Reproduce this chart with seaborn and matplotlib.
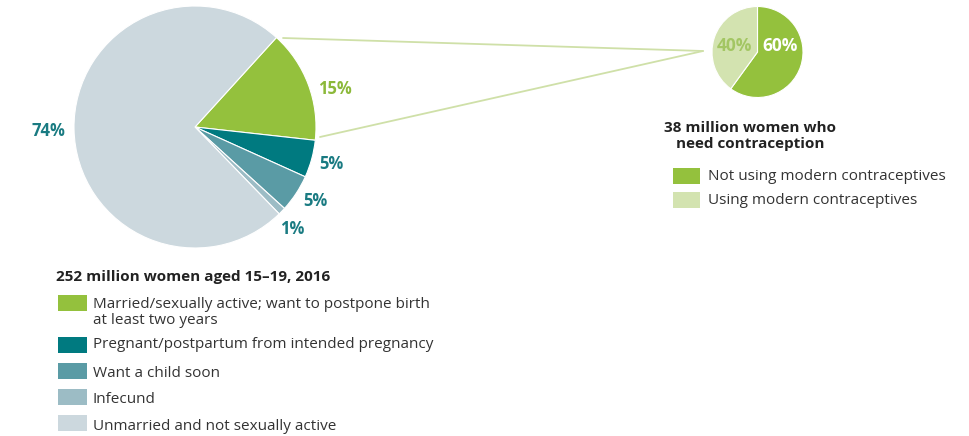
import matplotlib
matplotlib.use("Agg")
import matplotlib.pyplot as plt
import seaborn as sns
from matplotlib.patches import Rectangle

# data
teen_labels = [
    "Married/sexually active; want to postpone birth\nat least two years",
    "Pregnant/postpartum from intended pregnancy",
    "Want a child soon",
    "Infecund",
    "Unmarried and not sexually active",
]
teen_values = [15, 5, 5, 1, 74]
teen_colors = ["#94c13d", "#007a80", "#5a9ba5", "#9cbcc5", "#ccd8de"]
teen_title = "252 million women aged 15\u201319, 2016"

need_labels = ["Not using modern contraceptives", "Using modern contraceptives"]
need_values = [60, 40]
need_colors = ["#94c13d", "#d3e3b0"]
need_title = "38 million women who\nneed contraception"

sns.set_theme(style="white")
plt.rcParams["font.family"] = ["Open Sans", "DejaVu Sans"]

W, H = 969, 436
fig = plt.figure(figsize=(W / 100, H / 100), dpi=100)
ax = fig.add_axes([0, 0, 1, 1])


def Y(y):
    # image pixel row -> data y
    return H - y


# big pie
big_c = (195, Y(127))
big_r = 121
ax.pie(teen_values, colors=teen_colors, center=big_c, radius=big_r,
       startangle=47.7, counterclock=False,
       wedgeprops=dict(edgecolor="white", linewidth=0.8))

# small pie
small_c = (757.5, Y(52))
small_r = 45.5
ax.pie(need_values, colors=need_colors, center=small_c, radius=small_r,
       startangle=90, counterclock=False,
       wedgeprops=dict(edgecolor="white", linewidth=0.8))

ax.set_xlim(0, W)
ax.set_ylim(0, H)
ax.set_aspect("auto")
ax.axis("off")

# connector lines
line_col = "#cfe0a8"
ax.plot([283, 703], [Y(38), Y(51)], color=line_col, lw=1.3)
ax.plot([320, 703], [Y(137), Y(51)], color=line_col, lw=1.3)

# percent labels, big pie
pct_pos = [(335, 89), (331, 164), (315, 201), (292, 229), (48, 131)]
pct_cols = ["#8cb93a", "#1a7b82", "#1a7b82", "#1a7b82", "#1a7b82"]
for v, (px, py), c in zip(teen_values, pct_pos, pct_cols):
    ax.text(px, Y(py), f"{v}%", color=c, fontsize=12, fontweight="bold",
            ha="center", va="center")

# percent labels, small pie
ax.text(780, Y(46), f"{need_values[0]}%", color="white", fontsize=12.5,
        fontweight="bold", ha="center", va="center")
ax.text(734.5, Y(46), f"{need_values[1]}%", color="#a3c663", fontsize=12.5,
        fontweight="bold", ha="center", va="center")

# legend for small pie
txt = "#222222"
ax.text(750, Y(136), need_title, ha="center", va="center", fontsize=11,
        fontweight="bold", color=txt, linespacing=1.1)
for i, (lab, col) in enumerate(zip(need_labels, need_colors)):
    yc = 176 + i * 24
    ax.add_patch(Rectangle((673, Y(yc + 8)), 27, 16, color=col, lw=0))
    ax.text(708, Y(yc + 1), lab, ha="left", va="center", fontsize=11, color="#333333")

# legend for big pie
ax.text(56, Y(277), teen_title, ha="left", va="center", fontsize=11,
        fontweight="bold", color=txt)
patch_y = [303, 345, 371, 397, 423]
text_y = [312.5, 344, 373, 399, 426]
for lab, col, py, ty in zip(teen_labels, teen_colors, patch_y, text_y):
    ax.add_patch(Rectangle((58, Y(py + 8)), 29, 16, color=col, lw=0))
    ax.text(93, Y(ty), lab, ha="left", va="center", fontsize=11,
            color="#333333", linespacing=1.15)

fig.savefig("out.png", dpi=100)
